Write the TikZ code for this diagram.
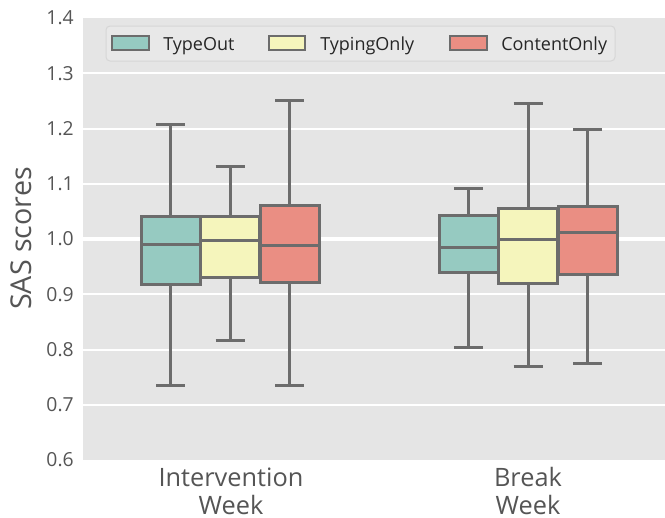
\documentclass[tikz,border=0pt]{standalone}
\usepackage{fontspec}
\setmainfont{Open Sans}
\definecolor{panel}{RGB}{229,229,229}
\definecolor{boxgray}{RGB}{108,108,108}
\definecolor{ticktext}{RGB}{85,85,85}
\definecolor{legendbg}{RGB}{232,232,232}
\definecolor{legendedge}{RGB}{214,214,214}
\definecolor{typeout}{RGB}{150,202,193}
\definecolor{typingonly}{RGB}{245,245,188}
\definecolor{contentonly}{RGB}{234,142,131}

\begin{document}
\begin{tikzpicture}[x=0.75pt,y=-0.75pt,declare function={sy(\v)=460-(\v-0.6)*552.5;}]
\tikzstyle{every node}+=[inner sep=0pt]
\tikzstyle{grid}=[white, line width=1.5pt]
\tikzstyle{boxline}=[draw=boxgray, line width=2.25pt]
\tikzstyle{whisker}=[boxgray, line width=2.25pt]
\tikzstyle{patch}=[draw=boxgray, line width=1.5pt]
\tikzstyle{ytick}=[anchor=east, text=ticktext, font=\fontsize{14.5}{17}\selectfont]
\tikzstyle{xtick}=[anchor=north, align=center, text=ticktext, font=\fontsize{19}{21}\selectfont]
\tikzstyle{legtext}=[anchor=base west, text=black!85, font=\fontsize{13.5}{16}\selectfont]
\useasboundingbox (0,0) rectangle (665,518);
% panel and grid
\fill [panel] (82.5,18) rectangle (665,460);
\draw [grid] (82.5,{sy(0.7)}) -- (665,{sy(0.7)});
\draw [grid] (82.5,{sy(0.8)}) -- (665,{sy(0.8)});
\draw [grid] (82.5,{sy(0.9)}) -- (665,{sy(0.9)});
\draw [grid, line width=3pt] (82.5,{sy(1.0)}) -- (665,{sy(1.0)});
\draw [grid] (82.5,{sy(1.1)}) -- (665,{sy(1.1)});
\draw [grid] (82.5,{sy(1.2)}) -- (665,{sy(1.2)});
\draw [grid] (82.5,{sy(1.3)}) -- (665,{sy(1.3)});
% y axis
\node [ytick] (y06) at (74,{sy(0.6)}) {0.6};
\node [ytick] (y07) at (74,{sy(0.7)}) {0.7};
\node [ytick] (y08) at (74,{sy(0.8)}) {0.8};
\node [ytick] (y09) at (74,{sy(0.9)}) {0.9};
\node [ytick] (y10) at (74,{sy(1.0)}) {1.0};
\node [ytick] (y11) at (74,{sy(1.1)}) {1.1};
\node [ytick] (y12) at (74,{sy(1.2)}) {1.2};
\node [ytick] (y13) at (74,{sy(1.3)}) {1.3};
\node [ytick] (y14) at (74,{sy(1.4)}) {1.4};
\node [rotate=90, text=ticktext, font=\fontsize{21.5}{24}\selectfont] (ylabel) at (21.5,238.5) {SAS scores};
% x axis
\node [xtick] (xint) at (231,468) {Intervention\\Week};
\node [xtick] (xbrk) at (528,467) {Break\\Week};
% intervention week, TypeOut
\draw [whisker] (170.5,{sy(1.208)}) -- (170.5,{sy(1.040)});
\draw [whisker] (170.5,{sy(0.918)}) -- (170.5,{sy(0.735)});
\draw [whisker] (156,{sy(1.208)}) -- (185,{sy(1.208)});
\draw [whisker] (156,{sy(0.735)}) -- (185,{sy(0.735)});
\filldraw [boxline, fill=typeout] (141,{sy(0.918)}) rectangle (200,{sy(1.040)});
\draw [boxline] (141,{sy(0.990)}) -- (200,{sy(0.990)});
% intervention week, TypingOnly
\draw [whisker] (230,{sy(1.132)}) -- (230,{sy(1.041)});
\draw [whisker] (230,{sy(0.931)}) -- (230,{sy(0.816)});
\draw [whisker] (215.5,{sy(1.132)}) -- (244.5,{sy(1.132)});
\draw [whisker] (215.5,{sy(0.816)}) -- (244.5,{sy(0.816)});
\filldraw [boxline, fill=typingonly] (200.5,{sy(0.931)}) rectangle (259.5,{sy(1.041)});
\draw [boxline] (200.5,{sy(0.998)}) -- (259.5,{sy(0.998)});
% intervention week, ContentOnly
\draw [whisker] (289.5,{sy(1.251)}) -- (289.5,{sy(1.061)});
\draw [whisker] (289.5,{sy(0.922)}) -- (289.5,{sy(0.734)});
\draw [whisker] (275,{sy(1.251)}) -- (304,{sy(1.251)});
\draw [whisker] (275,{sy(0.734)}) -- (304,{sy(0.734)});
\filldraw [boxline, fill=contentonly] (260,{sy(0.922)}) rectangle (319,{sy(1.061)});
\draw [boxline] (260,{sy(0.989)}) -- (319,{sy(0.989)});
% break week, TypeOut
\draw [whisker] (468.5,{sy(1.092)}) -- (468.5,{sy(1.043)});
\draw [whisker] (468.5,{sy(0.939)}) -- (468.5,{sy(0.803)});
\draw [whisker] (454,{sy(1.092)}) -- (483,{sy(1.092)});
\draw [whisker] (454,{sy(0.803)}) -- (483,{sy(0.803)});
\filldraw [boxline, fill=typeout] (439,{sy(0.939)}) rectangle (498,{sy(1.043)});
\draw [boxline] (439,{sy(0.985)}) -- (498,{sy(0.985)});
% break week, TypingOnly
\draw [whisker] (528,{sy(1.246)}) -- (528,{sy(1.056)});
\draw [whisker] (528,{sy(0.920)}) -- (528,{sy(0.769)});
\draw [whisker] (513.5,{sy(1.246)}) -- (542.5,{sy(1.246)});
\draw [whisker] (513.5,{sy(0.769)}) -- (542.5,{sy(0.769)});
\filldraw [boxline, fill=typingonly] (498.5,{sy(0.920)}) rectangle (557.5,{sy(1.056)});
\draw [boxline] (498.5,{sy(0.999)}) -- (557.5,{sy(0.999)});
% break week, ContentOnly
\draw [whisker] (587.5,{sy(1.198)}) -- (587.5,{sy(1.058)});
\draw [whisker] (587.5,{sy(0.935)}) -- (587.5,{sy(0.774)});
\draw [whisker] (573,{sy(1.198)}) -- (602,{sy(1.198)});
\draw [whisker] (573,{sy(0.774)}) -- (602,{sy(0.774)});
\filldraw [boxline, fill=contentonly] (558,{sy(0.935)}) rectangle (617,{sy(1.058)});
\draw [boxline] (558,{sy(1.012)}) -- (617,{sy(1.012)});
% legend
\filldraw [fill=legendbg, draw=legendedge, line width=0.75pt, rounded corners=3pt] (106,26) rectangle (615,61);
\filldraw [patch, fill=typeout] (112,36) rectangle (149,50);
\node [legtext] (legto) at (163,50) {TypeOut};
\filldraw [patch, fill=typingonly] (269,36) rectangle (305,50);
\node [legtext] (legty) at (320,50) {TypingOnly};
\filldraw [patch, fill=contentonly] (450,36) rectangle (487,50);
\node [legtext] (legco) at (501,50) {ContentOnly};
\end{tikzpicture}
\end{document}
